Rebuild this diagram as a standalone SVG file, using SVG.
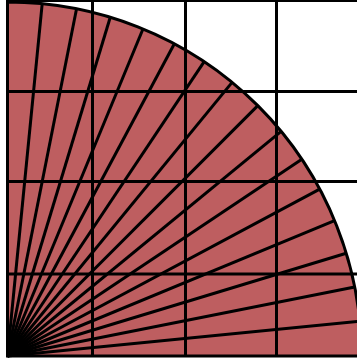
<svg xmlns="http://www.w3.org/2000/svg" width="357" height="362" viewBox="0 0 357 362">
<style>
.sector{fill:#be5e60;stroke:#000;stroke-width:3;stroke-linejoin:miter}
.ray{stroke:#000;stroke-width:3;fill:none}
.grid{stroke:#000;stroke-width:3}
</style>
<rect width="357" height="362" fill="#fff"/>
<g id="sector">
<path class="sector" d="M7.5,356 L7.5,2 A354,354 0 0 1 361.5,356 Z"/>
</g>
<g id="rays" transform="translate(7.5,356)">
<line class="ray" x1="0" y1="0" x2="34.70" y2="-352.30"/>
<line class="ray" x1="0" y1="0" x2="69.06" y2="-347.20"/>
<line class="ray" x1="0" y1="0" x2="102.76" y2="-338.76"/>
<line class="ray" x1="0" y1="0" x2="135.47" y2="-327.05"/>
<line class="ray" x1="0" y1="0" x2="166.87" y2="-312.20"/>
<line class="ray" x1="0" y1="0" x2="196.67" y2="-294.34"/>
<line class="ray" x1="0" y1="0" x2="224.57" y2="-273.64"/>
<line class="ray" x1="0" y1="0" x2="250.32" y2="-250.32"/>
<line class="ray" x1="0" y1="0" x2="273.64" y2="-224.57"/>
<line class="ray" x1="0" y1="0" x2="294.34" y2="-196.67"/>
<line class="ray" x1="0" y1="0" x2="312.20" y2="-166.87"/>
<line class="ray" x1="0" y1="0" x2="327.05" y2="-135.47"/>
<line class="ray" x1="0" y1="0" x2="338.76" y2="-102.76"/>
<line class="ray" x1="0" y1="0" x2="347.20" y2="-69.06"/>
<line class="ray" x1="0" y1="0" x2="352.30" y2="-34.70"/>
</g>
<g id="grid">
<line class="grid" x1="92.5" y1="0" x2="92.5" y2="357"/>
<line class="grid" x1="185.5" y1="0" x2="185.5" y2="357"/>
<line class="grid" x1="276.5" y1="0" x2="276.5" y2="357"/>
<line class="grid" x1="6" y1="0.5" x2="357" y2="0.5"/>
<line class="grid" x1="6" y1="91.5" x2="357" y2="91.5"/>
<line class="grid" x1="6" y1="181.5" x2="357" y2="181.5"/>
<line class="grid" x1="6" y1="274" x2="357" y2="274"/>
</g>
</svg>
